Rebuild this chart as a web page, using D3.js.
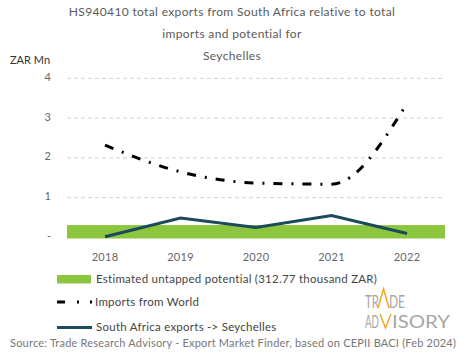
<!DOCTYPE html>
<html><head><meta charset="utf-8">
<script src="https://cdn.jsdelivr.net/npm/d3@7"></script>
<style>body{margin:0;background:#fff}svg{display:block}text{font-family:Lato,"Open Sans",sans-serif}</style>
</head><body><svg id="c" width="465" height="359"></svg>
<script>
const years = ["2018","2019","2020","2021","2022"];
const importsWorld = [2.32, 1.65, 1.37, 1.34, 3.37];
const saExports = [0.02, 0.49, 0.25, 0.55, 0.1];
const potential = 0.31277;
const yTicks = [0,1,2,3,4];
const yTickLabels = ["-","1","2","3","4"];
const titleLines = ["HS940410 total exports from South Africa relative to total","imports and potential for","Seychelles"];

const svg = d3.select("#c");
const x = d3.scalePoint().domain(years).range([105,407]);
const y = d3.scaleLinear().domain([0,4]).range([237.5,78.3]);
const x0 = 67, x1 = 445;

// title
svg.append("g").selectAll("text").data(titleLines).join("text")
  .attr("x",232).attr("y",(d,i)=>16+i*22).attr("text-anchor","middle")
  .attr("font-size",12).attr("letter-spacing",0.35).attr("fill","#5a5a5a").text(d=>d);
svg.append("text").attr("x",10).attr("y",64).attr("font-size",11).attr("fill","#333").text("ZAR Mn");

// grid
svg.append("g").selectAll("line").data(yTicks.filter(d=>d>0)).join("line")
  .attr("x1",x0).attr("x2",x1).attr("y1",d=>y(d)).attr("y2",d=>y(d))
  .attr("stroke","#d0d0d0").attr("stroke-dasharray","4,3").attr("stroke-width",1);
// y labels
svg.append("g").selectAll("text").data(yTicks).join("text")
  .attr("x",51).attr("y",(d)=>y(d)+2.5).attr("text-anchor","end")
  .attr("font-size",11).attr("fill","#666").text((d,i)=>yTickLabels[i]);
// x labels
svg.append("g").selectAll("text").data(years).join("text")
  .attr("x",d=>x(d)).attr("y",261).attr("text-anchor","middle")
  .attr("font-size",11).attr("letter-spacing",0.3).attr("fill","#666").text(d=>d);

// potential band
svg.append("rect").attr("x",x0).attr("width",x1-x0)
  .attr("y",y(potential)).attr("height",y(0)-y(potential)+1).attr("fill","#8cc63f");

// imports line
const lineCurve = d3.line().x((d,i)=>x(years[i])).y(d=>y(d)).curve(d3.curveMonotoneX);
svg.append("path").datum(importsWorld).attr("d",lineCurve).attr("fill","none")
  .attr("stroke","#000").attr("stroke-width",3).attr("stroke-dasharray","9,9,2,9");
// SA exports
const lineStraight = d3.line().x((d,i)=>x(years[i])).y(d=>y(d));
svg.append("path").datum(saExports).attr("d",lineStraight).attr("fill","none")
  .attr("stroke","#1b4a5c").attr("stroke-width",3);

// legend
svg.append("rect").attr("x",57).attr("y",275).attr("width",34).attr("height",8.5).attr("fill","#8cc63f");
svg.append("text").attr("x",96).attr("y",283).attr("font-size",11.5).attr("letter-spacing",0.25).attr("fill","#444").text("Estimated untapped potential (312.77 thousand ZAR)");
svg.append("line").attr("x1",57).attr("x2",92).attr("y1",302).attr("y2",302).attr("stroke","#000").attr("stroke-width",3).attr("stroke-dasharray","8,12,2,11,2,20");
svg.append("text").attr("x",95).attr("y",306).attr("font-size",11.5).attr("letter-spacing",0.25).attr("fill","#444").text("Imports from World");
svg.append("line").attr("x1",57).attr("x2",92).attr("y1",327.5).attr("y2",327.5).attr("stroke","#1b4a5c").attr("stroke-width",3);
svg.append("text").attr("x",96).attr("y",331).attr("font-size",11.5).attr("letter-spacing",0.25).attr("fill","#444").text("South Africa exports -> Seychelles");

// source
svg.append("text").attr("x",10).attr("y",347).attr("font-size",11).attr("letter-spacing",0.2).attr("fill","#777").text("Source: Trade Research Advisory - Export Market Finder, based on CEPII BACI (Feb 2024)");

// logo
const lf = "'Liberation Sans Narrow',Roboto,sans-serif";
const logo = [
  {t:"TR", x:365, y:308, w:14},
  {t:"DE", x:389, y:308, w:16},
  {t:"AD", x:365, y:328, w:14},
  {t:"ISORY", x:392, y:328, w:58}
];
svg.append("g").selectAll("text").data(logo).join("text")
  .attr("x",d=>d.x).attr("y",d=>d.y).attr("font-family",lf).attr("font-size",17)
  .attr("fill","#a6a6a6").attr("textLength",d=>d.w).attr("lengthAdjust","spacingAndGlyphs").text(d=>d.t);
svg.append("path").attr("d","M378,308 L383.5,289 L389,308 M380,314 L385.5,328 L391,314").attr("fill","none").attr("stroke","#f5a623").attr("stroke-width",1.5);
</script></body></html>
